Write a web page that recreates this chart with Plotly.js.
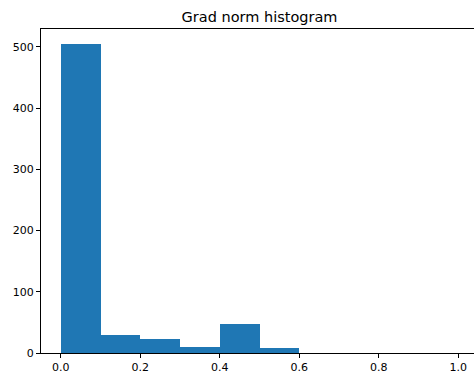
<!DOCTYPE html>
<html>
<head>
<meta charset="utf-8">
<script src="https://cdn.plot.ly/plotly-3.0.1.min.js"></script>
<style>html,body{margin:0;padding:0;overflow:hidden;background:#fff;width:474px;height:379px}</style>
</head>
<body>
<div id="chart"></div>
<script>
const binEdges = [0.0, 0.1, 0.2, 0.3, 0.4, 0.5, 0.6, 0.7, 0.8, 0.9, 1.0];
const counts = [504, 30, 23, 10, 47, 8, 0, 0, 0, 0];
const xTicks = [0.0, 0.2, 0.4, 0.6, 0.8, 1.0];
const xTickLabels = ["0.0", "0.2", "0.4", "0.6", "0.8", "1.0"];
const yTicks = [0, 100, 200, 300, 400, 500];

const centers = counts.map((_, i) => (binEdges[i] + binEdges[i + 1]) / 2);
const widths = counts.map((_, i) => binEdges[i + 1] - binEdges[i]);

const axisCommon = {
  showline: true, linecolor: '#000', linewidth: 1, mirror: true,
  showgrid: false, zeroline: false,
  ticks: 'outside', ticklen: 4, tickwidth: 1, tickcolor: '#000',
  tickfont: {family: 'DejaVu Sans', size: 11, color: '#000'}
};

Plotly.newPlot('chart', [{
  type: 'bar', x: centers, y: counts, width: widths,
  marker: {color: '#1f77b4', line: {width: 0}},
  hoverinfo: 'x+y'
}], {
  width: 480, height: 379,
  margin: {l: 41, r: 2, t: 29, b: 26},
  paper_bgcolor: '#fff', plot_bgcolor: '#fff',
  title: {text: 'Grad norm histogram', font: {family: 'DejaVu Sans', size: 14.5, color: '#000'}, x: 0.5, xref: 'paper', xanchor: 'center', y: 1, yref: 'paper', yanchor: 'bottom', pad: {b: 7}},
  xaxis: Object.assign({}, axisCommon, {range: [-0.05, 1.05], tickvals: xTicks, ticktext: xTickLabels}),
  yaxis: Object.assign({}, axisCommon, {range: [0, 529], tickvals: yTicks}),
  bargap: 0, showlegend: false
}, {displayModeBar: false, staticPlot: true});
</script>
</body>
</html>
